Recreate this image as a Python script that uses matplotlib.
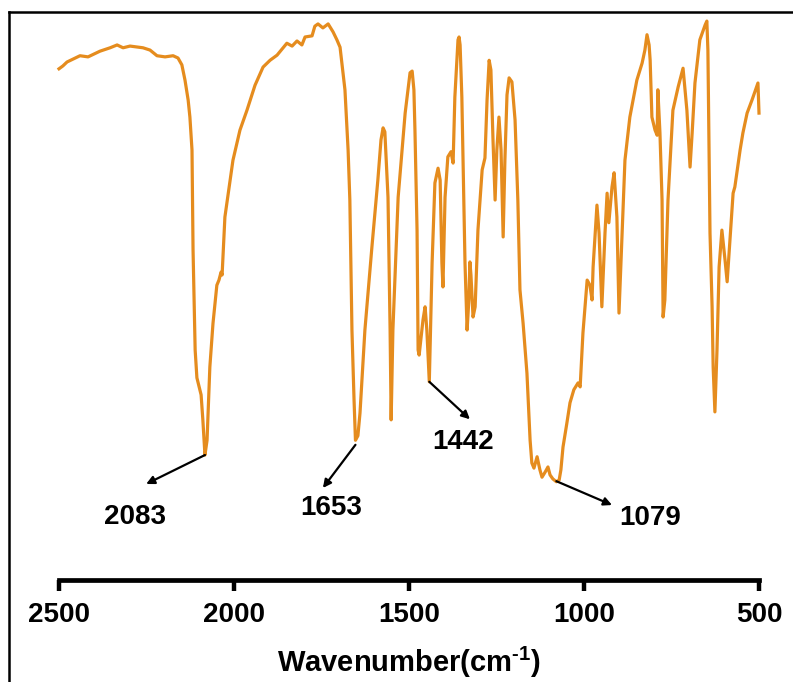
import matplotlib
matplotlib.use("Agg")
import matplotlib.pyplot as plt
from matplotlib.lines import Line2D

plt.rcParams["font.family"] = ["Liberation Sans", "DejaVu Sans"]
plt.rcParams["font.weight"] = "bold"
plt.rcParams["mathtext.fontset"] = "custom"
plt.rcParams["mathtext.rm"] = "Liberation Sans:bold"
plt.rcParams["mathtext.bf"] = "Liberation Sans:bold"
plt.rcParams["mathtext.default"] = "rm"

# FT-IR spectrum: wavenumber (cm^-1) and transmittance (%)
wavenumber = [
    2500, 2489, 2477, 2460, 2440, 2417, 2383, 2354, 2334, 2317, 2297, 2260, 2240, 2220,
    2197, 2174, 2160, 2149, 2140, 2131, 2126, 2120, 2117, 2111, 2106, 2094, 2089, 2083,
    2077, 2069, 2060, 2049, 2043, 2037, 2034, 2026, 2017, 2003, 1983, 1963, 1940, 1917,
    1897, 1877, 1849, 1834, 1820, 1806, 1797, 1777, 1769, 1760, 1746, 1731, 1717, 1706,
    1697, 1683, 1674, 1669, 1663, 1657, 1653, 1646, 1640, 1626, 1606, 1589, 1580, 1574,
    1569, 1560, 1554, 1551, 1546, 1531, 1511, 1497, 1491, 1486, 1483, 1477, 1474, 1471,
    1460, 1454, 1449, 1442, 1434, 1426, 1417, 1411, 1406, 1403, 1397, 1389, 1380, 1374,
    1369, 1360, 1357, 1354, 1349, 1340, 1334, 1329, 1326, 1323, 1317, 1311, 1303, 1291,
    1283, 1277, 1271, 1266, 1260, 1254, 1249, 1243, 1237, 1231, 1226, 1220, 1214, 1206,
    1197, 1189, 1183, 1174, 1163, 1154, 1149, 1143, 1134, 1126, 1120, 1111, 1103, 1097,
    1089, 1079, 1071, 1066, 1060, 1049, 1040, 1029, 1017, 1011, 1003, 991, 983, 977,
    974, 963, 957, 949, 940, 934, 929, 920, 914, 906, 900, 891, 883, 869,
    849, 834, 826, 820, 814, 811, 806, 797, 791, 789, 783, 777, 774, 769,
    760, 746, 731, 717, 706, 697, 691, 683, 669, 654, 649, 646, 640, 634,
    631, 626, 620, 614, 606, 597, 591, 583, 574, 569, 554, 546, 534, 520,
    503, 500,
]
transmittance = [
    90.0, 90.5, 91.2, 91.7, 92.3, 92.1, 93.1, 93.7, 94.2, 93.7, 94.0, 93.7, 93.3, 92.3,
    92.1, 92.3, 91.9, 90.7, 88.0, 84.5, 81.5, 75.7, 58.1, 40.5, 35.6, 32.6, 28.2, 22.0,
    24.6, 37.5, 45.2, 51.9, 52.8, 54.2, 53.7, 63.9, 67.8, 73.9, 79.2, 82.7, 87.1, 90.3,
    91.5, 92.4, 94.5, 94.0, 94.9, 94.2, 95.6, 95.8, 97.5, 97.9, 97.2, 97.9, 96.5, 95.1,
    93.8, 86.3, 75.7, 66.9, 44.0, 31.7, 24.6, 25.4, 29.4, 44.0, 58.6, 70.4, 77.5, 79.6,
    78.9, 67.4, 44.0, 28.2, 44.0, 67.4, 82.2, 89.3, 89.6, 86.3, 79.2, 61.6, 40.5, 39.6,
    45.8, 48.1, 44.0, 34.9, 55.8, 69.9, 72.5, 70.4, 55.8, 51.6, 67.4, 74.5, 75.4, 73.4,
    85.0, 95.1, 95.6, 94.2, 85.0, 55.8, 44.0, 49.3, 56.0, 53.7, 46.3, 48.1, 61.6, 72.2,
    74.3, 84.5, 91.5, 89.8, 77.5, 66.9, 75.7, 81.5, 75.7, 60.4, 73.9, 85.4, 88.4, 87.7,
    81.0, 66.9, 51.1, 45.2, 36.4, 24.6, 20.6, 19.7, 21.7, 19.4, 18.1, 19.0, 19.9, 18.5,
    17.8, 17.3, 17.6, 19.4, 23.4, 27.6, 31.2, 33.5, 34.7, 34.0, 43.5, 52.8, 51.9, 49.3,
    55.1, 66.0, 61.1, 48.1, 61.1, 68.1, 62.9, 69.2, 71.7, 63.9, 47.0, 61.1, 73.9, 81.5,
    88.0, 91.0, 93.3, 96.0, 94.2, 91.5, 81.5, 79.2, 78.3, 86.3, 78.7, 66.9, 46.3, 49.3,
    66.9, 82.7, 86.8, 90.1, 82.7, 72.7, 78.7, 87.5, 95.1, 97.7, 98.4, 93.3, 61.1, 48.1,
    37.5, 29.6, 40.5, 55.1, 61.6, 56.3, 52.5, 59.9, 68.1, 69.2, 75.7, 78.7, 82.2, 84.5,
    87.5, 82.2,
]

# Labelled bands: peak position, arrow head and label position
peak_labels = ["2083", "1653", "1442", "1079"]
peak_wn = [2083, 1653, 1442, 1079]
peak_t = [22.0, 23.8, 34.9, 17.4]
arrow_head_wn = [2251, 1746, 1326, 920]
arrow_head_t = [16.9, 16.2, 28.3, 13.2]
label_wn = [2283, 1723, 1346, 811]
label_t = [11.1, 12.7, 24.3, 10.9]

x_ticks = [2500, 2000, 1500, 1000, 500]

line_color = "#E58C1E"

fig = plt.figure(figsize=(7.93, 6.82), dpi=100)
ax = fig.add_axes([59 / 793, 1 - 580 / 682, 700 / 793, 568 / 682])

ax.plot(wavenumber, transmittance, color=line_color, lw=2.3, clip_on=False,
        solid_joinstyle="round")

for lab, pw, pt, hw, ht, lw_, lt in zip(peak_labels, peak_wn, peak_t,
                                        arrow_head_wn, arrow_head_t, label_wn, label_t):
    ax.annotate("", xy=(hw, ht), xytext=(pw, pt),
                arrowprops=dict(arrowstyle="-|>", color="black", lw=1.6,
                                mutation_scale=12, shrinkA=0, shrinkB=0))
    ax.text(lw_, lt, lab, ha="center", va="center", fontsize=20,
            fontweight="bold", color="black")

ax.set_xlim(2500, 500)
ax.set_ylim(0, 100)
ax.set_xticks(x_ticks)
ax.set_xticklabels([str(t) for t in x_ticks])
ax.tick_params(axis="x", direction="out", length=8, width=3.2, pad=8,
               labelsize=20, color="black")
for lbl in ax.get_xticklabels():
    lbl.set_fontweight("bold")
ax.set_yticks([])
for side in ("left", "right", "top"):
    ax.spines[side].set_visible(False)
ax.spines["bottom"].set_linewidth(3.4)
ax.spines["bottom"].set_capstyle("projecting")
ax.patch.set_alpha(0)

ax.set_xlabel(r"Wavenumber(cm$^{\text{-}1}$)", fontsize=21, fontweight="bold",
              labelpad=12)

# Partial frame around the figure
fx = 8.5 / 793
fy = 1 - 12 / 682
fig.add_artist(Line2D([fx, fx], [0, fy], transform=fig.transFigure, color="black", lw=1.8))
fig.add_artist(Line2D([fx, 1], [fy, fy], transform=fig.transFigure, color="black", lw=1.8))

fig.savefig("out.png", dpi=100, facecolor="white")
